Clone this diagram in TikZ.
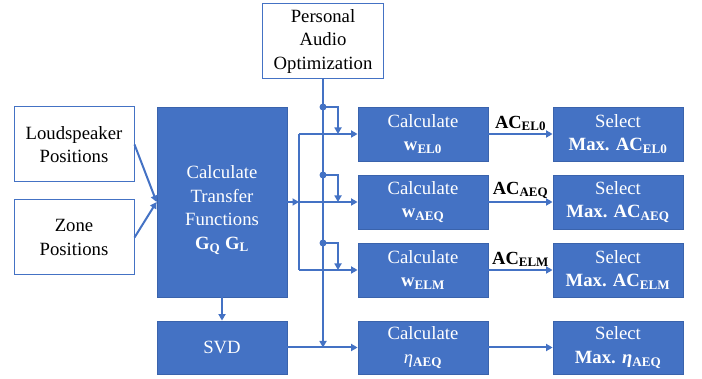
\documentclass[tikz,border=0pt]{standalone}
\usepackage{fontspec}
\setmainfont{Liberation Serif}
\usetikzlibrary{arrows.meta}
\definecolor{ob}{HTML}{4472C4}
\definecolor{obd}{HTML}{3A63AC}
\newcommand{\sbx}[1]{\textsubscript{\textbf{#1}}}
\begin{document}
\begin{tikzpicture}[x=1pt,y=-1pt,
  txt/.style={font=\fontsize{18.7}{23.5}\selectfont, align=center, inner sep=0pt},
  wbox/.style={txt, draw=ob, line width=1pt, fill=white, text=black},
  bbox/.style={txt, draw=obd, line width=0.8pt, fill=ob, text=white},
  ln/.style={draw=ob, line width=2pt},
  conn/.style={ln, -{Triangle[length=6.5pt,width=7pt]}},
  jdot/.style={circle, fill=ob, inner sep=0pt, minimum size=7pt},
  aclab/.style={font=\fontsize{18.5}{22}\selectfont\bfseries, text=black, inner sep=0pt, anchor=south}
]
\useasboundingbox (0,0) rectangle (702,379);

% input boxes
\node[wbox, minimum width=121pt, minimum height=75pt] (pao) at (323,41.5) {Personal\\Audio\\Optimization};
\node[wbox, minimum width=120pt, minimum height=75pt] (ls) at (74,144.5) {Loudspeaker\\Positions};
\node[wbox, minimum width=120pt, minimum height=75pt] (zone) at (74,237.5) {Zone\\Positions};

% processing boxes
\node[bbox, minimum width=130pt, minimum height=190pt,
  label={[txt, text=white, yshift=-8pt]center:{Calculate\\Transfer\\Functions\\\textbf{G}\sbx{Q} \textbf{G}\sbx{L}}}] (ctf) at (222,202) {};
\node[bbox, minimum width=130pt, minimum height=53pt] (svd) at (222,347.5) {SVD};

\node[bbox, minimum width=130pt, minimum height=54pt] (c1) at (423,134) {Calculate\\\textbf{w}\sbx{EL0}};
\node[bbox, minimum width=130pt, minimum height=54pt] (c2) at (423,202) {Calculate\\\textbf{w}\sbx{AEQ}};
\node[bbox, minimum width=130pt, minimum height=54pt] (c3) at (423,270) {Calculate\\\textbf{w}\sbx{ELM}};
\node[bbox, minimum width=130pt, minimum height=53pt] (c4) at (423,347.5) {Calculate\\\textit{η}\sbx{AEQ}};

\node[bbox, minimum width=130pt, minimum height=54pt] (s1) at (618,134) {Select\\\textbf{Max. AC}\sbx{EL0}};
\node[bbox, minimum width=130pt, minimum height=54pt] (s2) at (618,202) {Select\\\textbf{Max. AC}\sbx{AEQ}};
\node[bbox, minimum width=130pt, minimum height=54pt] (s3) at (618,270) {Select\\\textbf{Max. AC}\sbx{ELM}};
\node[bbox, minimum width=130pt, minimum height=53pt] (s4) at (618,347.5) {Select\\\textbf{Max. \textit{η}}\sbx{AEQ}};

% inputs to transfer functions
\draw[conn] (ls.east) -- (ctf.west);
\draw[conn] (zone.east) -- (ctf.west);
\draw[conn] (ctf.south) -- (svd.north);

% bus from transfer functions
\coordinate (bt) at (299,134);
\coordinate (bm) at (299,202);
\coordinate (bb) at (299,270);
\draw[conn] (ctf.east) -- (bm);
\draw[ln] (bt) -- (bb);
\draw[conn] (bt) -- (c1.west);
\draw[conn] (bm) -- (c2.west);
\draw[conn] (bb) -- (c3.west);
\draw[conn] (svd.east) -- (c4.west);

% personal audio optimization line
\coordinate (v4) at (323,347.5);
\draw[conn] (pao.south) -- (v4);
\node[jdot] (d1) at (323,107) {};
\node[jdot] (d2) at (323,175) {};
\node[jdot] (d3) at (323,243) {};
\coordinate (e1) at (338,134);
\coordinate (e2) at (338,202);
\coordinate (e3) at (338,270);
\draw[conn] (d1.center) -| (e1);
\draw[conn] (d2.center) -| (e2);
\draw[conn] (d3.center) -| (e3);

% outputs
\draw[conn] (c1.east) -- node[aclab, above=2pt] {AC\textsubscript{EL0}} (s1.west);
\draw[conn] (c2.east) -- node[aclab, above=2pt] {AC\textsubscript{AEQ}} (s2.west);
\draw[conn] (c3.east) -- node[aclab, above=2pt] {AC\textsubscript{ELM}} (s3.west);
\draw[conn] (c4.east) -- (s4.west);
\end{tikzpicture}
\end{document}
